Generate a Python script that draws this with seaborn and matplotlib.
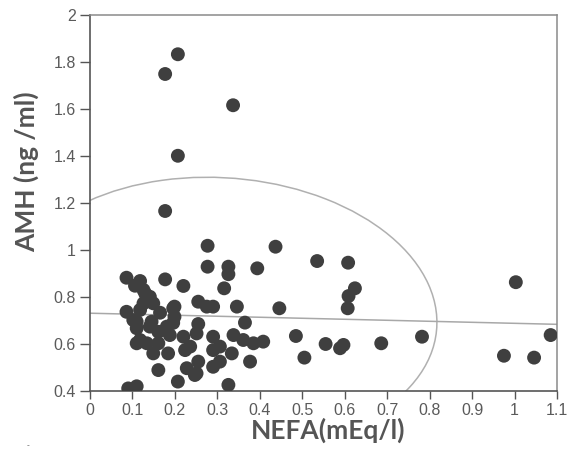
import numpy as np
import pandas as pd
import matplotlib
matplotlib.use("Agg")
import matplotlib.pyplot as plt
from matplotlib.patches import Ellipse
import seaborn as sns

# NEFA (mEq/l) and AMH (ng/ml)
nefa = [0.207, 0.177, 0.337, 0.207, 0.177, 0.277, 0.437, 0.535, 0.608, 0.277,
        0.326, 0.326, 0.394, 1.003, 0.624, 0.609, 0.607, 0.446,
        0.086, 0.106, 0.118, 0.126, 0.141, 0.177, 0.220, 0.316, 0.130, 0.149,
        0.126, 0.255, 0.275, 0.290, 0.346, 0.199, 0.086, 0.118, 0.165, 0.196,
        0.102, 0.145, 0.199, 0.196, 0.110, 0.365, 0.255, 0.141, 0.181, 0.110,
        0.161, 0.188, 0.118, 0.220, 0.251, 0.290, 0.338, 0.361, 0.110, 0.134,
        0.161, 0.236, 0.306, 0.385, 0.408, 0.485, 0.555, 0.589, 0.597, 0.686,
        0.782, 0.149, 0.184, 0.224, 0.290, 0.334, 0.255, 0.306, 0.377, 0.505,
        0.161, 0.228, 0.247, 0.290, 0.251, 0.207, 0.090, 0.110, 0.326, 0.975,
        1.046, 1.085]
amh = [1.833, 1.749, 1.616, 1.401, 1.166, 1.018, 1.014, 0.953, 0.946, 0.929,
       0.929, 0.897, 0.922, 0.863, 0.837, 0.804, 0.752, 0.752,
       0.882, 0.848, 0.868, 0.830, 0.801, 0.875, 0.847, 0.837, 0.815, 0.773,
       0.773, 0.780, 0.759, 0.759, 0.759, 0.759, 0.737, 0.745, 0.733, 0.752,
       0.702, 0.695, 0.716, 0.690, 0.695, 0.691, 0.685, 0.674, 0.674, 0.667,
       0.652, 0.638, 0.617, 0.631, 0.645, 0.631, 0.638, 0.617, 0.603, 0.603,
       0.603, 0.589, 0.589, 0.603, 0.610, 0.634, 0.600, 0.582, 0.596, 0.603,
       0.631, 0.560, 0.560, 0.574, 0.574, 0.560, 0.525, 0.525, 0.525, 0.542,
       0.489, 0.497, 0.468, 0.503, 0.475, 0.440, 0.411, 0.420, 0.426, 0.550,
       0.542, 0.638]

# linear fit as shown in the figure
fit_intercept = 0.731
fit_slope = -0.043

x_ticks = [0, 0.1, 0.2, 0.3, 0.4, 0.5, 0.6, 0.7, 0.8, 0.9, 1, 1.1]
x_labels = ["0", "0.1", "0.2", "0.3", "0.4", "0.5", "0.6", "0.7", "0.8", "0.9", "1", "1.1"]
y_ticks = [0.4, 0.6, 0.8, 1, 1.2, 1.4, 1.6, 1.8, 2]
y_labels = ["0.4", "0.6", "0.8", "1", "1.2", "1.4", "1.6", "1.8", "2"]

df = pd.DataFrame({"NEFA": nefa, "AMH": amh})

sns.set_style("ticks")
plt.rcParams["font.family"] = ["Liberation Sans", "DejaVu Sans"]

fig = plt.figure(figsize=(5.71, 4.62), dpi=100)
ax = fig.add_axes([0.1576, 0.1537, 0.8179, 0.8138])
ax.set_xlim(0, 1.1)
ax.set_ylim(0.4, 2)

sns.scatterplot(data=df, x="NEFA", y="AMH", ax=ax, s=100, color="#3f3f3f",
                edgecolor="none", zorder=3)

# fitted line over the full x range
fit_x = np.array([0, 1.1])
sns.lineplot(x=fit_x, y=fit_intercept + fit_slope * fit_x, ax=ax,
             color="#a8a8a8", lw=1.1, zorder=2)

# bivariate density ellipse
mean = df[["NEFA", "AMH"]].mean().values
cov = np.cov(df["NEFA"], df["AMH"])
vals, vecs = np.linalg.eigh(cov)
angle = np.degrees(np.arctan2(vecs[1, 1], vecs[0, 1]))
k = 2.3
ell = Ellipse(mean, 2 * k * np.sqrt(vals[1]), 2 * k * np.sqrt(vals[0]), angle=angle,
              fill=False, edgecolor="#b0b0b0", lw=1.1, zorder=1)
ax.add_patch(ell)

ax.set_xticks(x_ticks)
ax.set_xticklabels(x_labels)
ax.set_yticks(y_ticks)
ax.set_yticklabels(y_labels)
ax.tick_params(axis="both", labelsize=11.5, labelcolor="#5a5a5a", color="#555555",
               width=1, direction="out")
ax.tick_params(axis="x", length=6, pad=3)
ax.tick_params(axis="y", length=7, pad=3)

for side in ["left", "bottom"]:
    ax.spines[side].set_color("#555555")
    ax.spines[side].set_linewidth(1.2)
for side in ["top", "right"]:
    ax.spines[side].set_visible(True)
    ax.spines[side].set_color("#8a8a8a")
    ax.spines[side].set_linewidth(1.1)

ax.set_xlabel("NEFA(mEq/l)", fontsize=19, fontweight="bold", color="#555555", family="Lato")
ax.set_ylabel("AMH (ng /ml)", fontsize=19, fontweight="bold", color="#555555", family="Lato")
ax.xaxis.set_label_coords(0.51, -0.07)
ax.yaxis.set_label_coords(-0.108, 0.582)

fig.text(28 / 571, 1 - 446 / 462, "-", fontsize=6, color="#555555", ha="center", va="center")

fig.savefig("out.png", dpi=100)
